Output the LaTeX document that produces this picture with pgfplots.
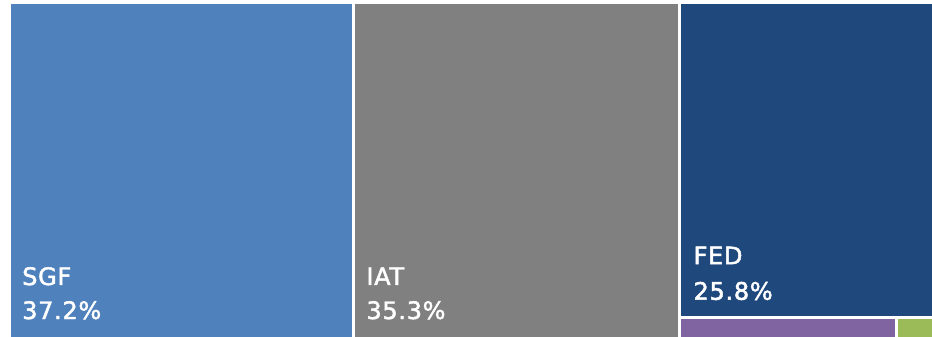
\documentclass[border=0pt]{standalone}
\usepackage{pgfplots}
\pgfplotsset{compat=1.18}
\usepackage{fontspec}
\setmainfont{DejaVu Sans}
\newfontfamily\lblfont{DejaVu Sans}[LetterSpace=3, RawFeature={embolden=2}]
\definecolor{sgf}{HTML}{4F81BD}
\definecolor{iat}{HTML}{808080}
\definecolor{fed}{HTML}{1F497D}
\definecolor{oth1}{HTML}{8064A2}
\definecolor{oth2}{HTML}{9BBB59}
\tikzset{lbl/.style={anchor=base west, text=white, font=\lblfont\fontsize{24bp}{28bp}\selectfont, inner sep=0pt}}
\begin{document}
\begin{tikzpicture}
\path[use as bounding box] (0,0) rectangle (932bp,337bp);
\begin{axis}[
  at={(9.5bp,-1.5bp)}, anchor=south west,
  scale only axis, width=924bp, height=336bp,
  xmin=0, xmax=100, ymin=0, ymax=100,
  hide axis, clip=false,
  every axis plot/.append style={draw=white, line width=3bp, line join=miter},
]
% SGF 37.2
\addplot[fill=sgf] coordinates {(0,0) (37.2,0) (37.2,100) (0,100) (0,0)};
% IAT 35.3
\addplot[fill=iat] coordinates {(37.2,0) (72.5,0) (72.5,100) (37.2,100) (37.2,0)};
% FED 25.8
\addplot[fill=fed] coordinates {(72.5,6.18) (100,6.18) (100,100) (72.5,100) (72.5,6.18)};
% others
\addplot[fill=oth1] coordinates {(72.5,0) (95.96,0) (95.96,6.18) (72.5,6.18) (72.5,0)};
\addplot[fill=oth2] coordinates {(95.96,0) (100,0) (100,6.18) (95.96,6.18) (95.96,0)};

\node[lbl] at ([xshift=12.5bp,yshift=53.5bp]axis cs:0,0) {SGF};
\node[lbl] at ([xshift=12.5bp,yshift=19.5bp]axis cs:0,0) {37.2\%};
\node[lbl] at ([xshift=13bp,yshift=53.5bp]axis cs:37.2,0) {IAT};
\node[lbl] at ([xshift=13bp,yshift=19.5bp]axis cs:37.2,0) {35.3\%};
\node[lbl] at ([xshift=14bp,yshift=53.5bp]axis cs:72.5,6.18) {FED};
\node[lbl] at ([xshift=14bp,yshift=18bp]axis cs:72.5,6.18) {25.8\%};
\end{axis}
\end{tikzpicture}
\end{document}
